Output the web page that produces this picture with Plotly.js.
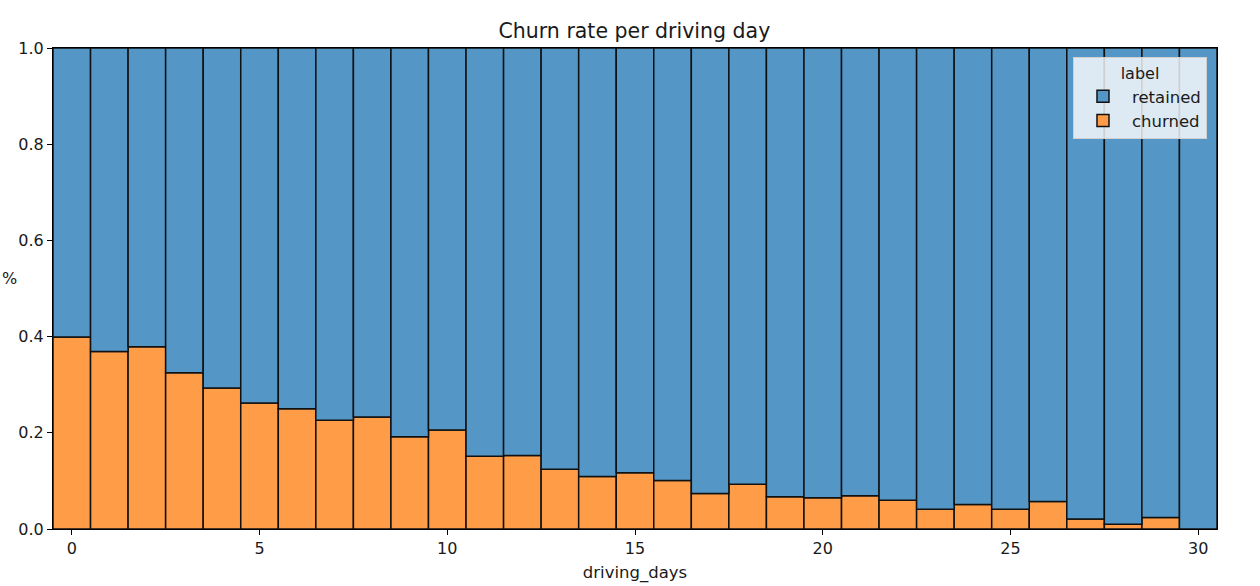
<!DOCTYPE html>
<html>
<head>
<meta charset="utf-8">
<script src="https://cdn.plot.ly/plotly-3.0.1.min.js"></script>
<style>html,body{margin:0;padding:0;background:#fff;}#chart{width:1260px;height:586px;}
#chart .bars path{shape-rendering:geometricPrecision !important;}</style>
</head>
<body>
<div id="chart"></div>
<script>
const drivingDays = [0,1,2,3,4,5,6,7,8,9,10,11,12,13,14,15,16,17,18,19,20,21,22,23,24,25,26,27,28,29,30];
const churned = [0.399,0.369,0.379,0.325,0.293,0.262,0.250,0.226,0.233,0.192,0.206,0.151,0.153,0.124,0.109,0.117,0.101,0.074,0.093,0.067,0.065,0.069,0.060,0.041,0.051,0.041,0.057,0.021,0.010,0.024,0.0];
const retained = churned.map(v => 1 - v);
const xTicks = [0,5,10,15,20,25,30];

const font = "DejaVu Sans, sans-serif";
const txt = '#1a1a1a';
const traces = [
  {type:'bar', name:'churned', x:drivingDays, y:churned, width:1,
   marker:{color:'#fe9c48', line:{color:'#111', width:1.5}}, legendrank:2},
  {type:'bar', name:'retained', x:drivingDays, y:retained, width:1,
   marker:{color:'#5497c6', line:{color:'#111', width:1.5}}, legendrank:1}
];
const layout = {
  width:1260, height:586,
  margin:{l:53, r:43, t:48, b:57},
  barmode:'stack', bargap:0,
  paper_bgcolor:'#fff', plot_bgcolor:'#fff',
  font:{family:font, color:txt, size:16},
  title:{text:'Churn rate per driving day', x:0.5035, xanchor:'center', y:0.948, yanchor:'middle', font:{size:20.5, family:font, color:txt}},
  xaxis:{range:[-0.5,30.5], tickvals:xTicks, ticktext:xTicks.map(String), ticks:'outside', ticklen:5, tickcolor:'#000',
         showline:true, linecolor:'#000', linewidth:1, mirror:true, showgrid:false, zeroline:false,
         tickfont:{size:16, family:font, color:txt},
         title:{text:'driving_days', standoff:9, font:{size:16.5, family:font, color:txt}}},
  yaxis:{range:[0,1], tickvals:[0,0.2,0.4,0.6,0.8,1.0], ticktext:['0.0','0.2','0.4','0.6','0.8','1.0'],
         ticks:'outside', ticklen:5, tickcolor:'#000', showline:true, linecolor:'#000', linewidth:1, mirror:true,
         showgrid:false, zeroline:false, tickfont:{size:16, family:font, color:txt}},
  legend:{x:0.9914, xanchor:'right', y:0.981, yanchor:'top', bgcolor:'rgba(255,255,255,0.8)', bordercolor:'#d0d0d0', borderwidth:1,
          traceorder:'normal', font:{size:16.5, family:font, color:txt}, itemwidth:48,
          title:{text:'label', side:'top center', font:{size:16, family:font, color:txt}}},
  annotations:[{text:'%', xref:'paper', yref:'paper', x:-0.0455, y:0.52, xanchor:'left', yanchor:'middle', showarrow:false,
                font:{size:16, family:font, color:txt}}]
};
Plotly.newPlot('chart', traces, layout, {displayModeBar:false, staticPlot:true});
</script>
</body>
</html>
